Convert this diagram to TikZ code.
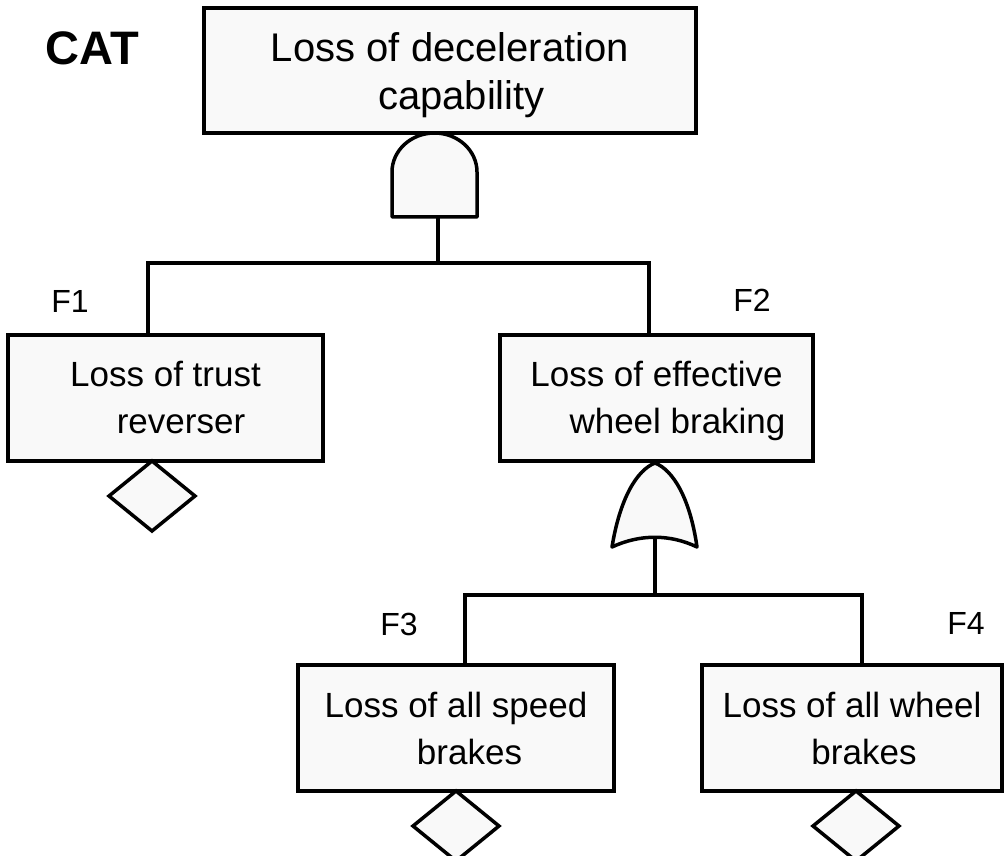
\documentclass[tikz,border=0pt]{standalone}
\usepackage{fontspec}
\setmainfont{Liberation Sans}
\usetikzlibrary{shapes.geometric}

\begin{document}
\begin{tikzpicture}[
    x=1pt, y=-1pt,
    % event boxes, undeveloped events and gates
    event/.style={rectangle, draw=black, line width=4pt, fill=boxfill, inner sep=0pt, outer sep=0pt, minimum height=126pt, align=center, font=\fontsize{35}{47}\selectfont},
    undev/.style={diamond, draw=black, line width=3.5pt, fill=boxfill, inner sep=0pt, outer sep=0pt, minimum width=86pt, minimum height=70pt},
    gate/.style={draw=black, line width=3.5pt, fill=boxfill, line join=round},
    % plain connecting lines
    wire/.style={draw=black, line width=3.5pt},
    tag/.style={font=\fontsize{32}{38}\selectfont, inner sep=0pt},
]

% ==================== 1. colours and levels ====================
\definecolor{boxfill}{HTML}{F9F9F9}

\def\yTop{70.5}
\def\yMid{398}
\def\yLow{728}
\def\yBusA{263}
\def\yBusB{595}

\useasboundingbox (0,0) rectangle (1005,856);

% ==================== 2. top event ====================
\node[font=\bfseries\fontsize{47}{52}\selectfont, inner sep=0pt] (cat) at (92.5,48) {CAT};
\node[event, minimum width=492pt, minimum height=125pt, font=\fontsize{40}{48}\selectfont] (loss_decel) at (450,\yTop) {\rule{0pt}{39pt}Loss of deceleration\\\hspace*{23pt}capability};

% AND gate below the top event
\draw[gate] (392,217) -- (392,172) .. controls (392,150.5) and (411,133) .. (434.5,133)
    .. controls (458,133) and (477,150.5) .. (477,172) -- (477,217) -- cycle;
\coordinate (and_out) at (438,217);
\coordinate (and_bus) at (438,\yBusA);

% ==================== 3. first level ====================
\node[event, minimum width=315pt] (loss_rev)   at (165.5,\yMid) {Loss of trust\\\hspace*{31pt}reverser};
\node[event, minimum width=313pt] (loss_wheel) at (656.5,\yMid) {\rule{0pt}{31pt}Loss of effective\\\hspace*{42pt}wheel braking};

\node[tag] (tag_f1) at (70,301) {F1};
\node[tag] (tag_f2) at (752,300) {F2};

\draw[wire] (and_out) -- (and_bus);
\draw[wire] ([xshift=-17.5pt]loss_rev.north) |- (and_bus) -| ([xshift=-7.5pt]loss_wheel.north);

\node[undev, anchor=north] (dia_rev) at ([xshift=-13.5pt]loss_rev.south) {};

% OR gate below F2
\draw[gate] (612,547) .. controls (620,498) and (637,470) .. (655,463)
    .. controls (673,470) and (690,498) .. (697,547)
    .. controls (670,534) and (640,534) .. cycle;
\coordinate (or_out) at (655,538);
\coordinate (or_bus) at (655,\yBusB);

% ==================== 4. second level ====================
\node[event, minimum width=316pt] (loss_speed) at (456,\yLow) {Loss of all speed\\\hspace*{27pt}brakes};
\node[event, minimum width=300pt] (loss_all)   at (852,\yLow) {Loss of all wheel\\\hspace*{24pt}brakes};

\node[tag] (tag_f3) at (399,624) {F3};
\node[tag] (tag_f4) at (966,623) {F4};

\draw[wire] (or_out) -- (or_bus);
\draw[wire] ([xshift=9pt]loss_speed.north) |- (or_bus) -| ([xshift=10pt]loss_all.north);

\node[undev, anchor=north] (dia_speed) at (loss_speed.south) {};
\node[undev, anchor=north] (dia_all)   at ([xshift=4pt]loss_all.south) {};

\end{tikzpicture}
\end{document}
